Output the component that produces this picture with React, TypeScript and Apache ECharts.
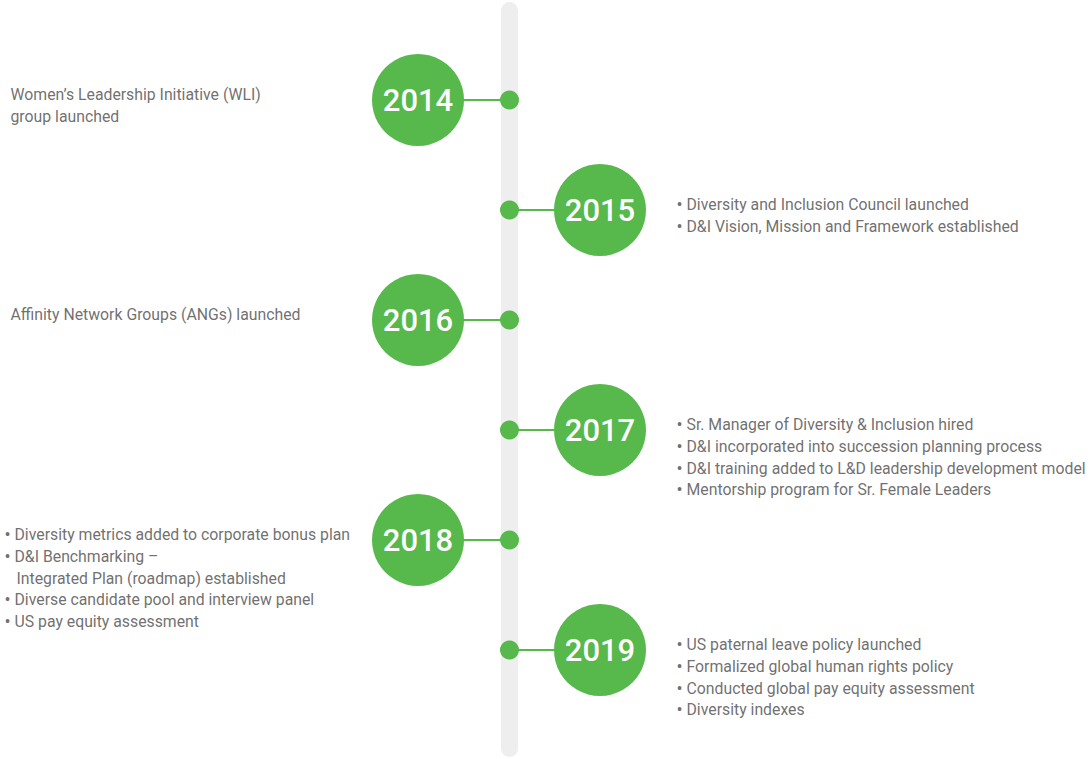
import React, { useEffect, useRef } from "react";
import * as echarts from "echarts";

// ---- data ----
const years = [2014, 2015, 2016, 2017, 2018, 2019];
const sides = ["left", "right", "left", "right", "left", "right"];
const bulleted = [false, true, false, true, true, true];
const notes2014 = ["Women’s Leadership Initiative (WLI)", "group launched"];
const notes2015 = ["Diversity and Inclusion Council launched", "D&I Vision, Mission and Framework established"];
const notes2016 = ["Affinity Network Groups (ANGs) launched"];
const notes2017 = [
  "Sr. Manager of Diversity & Inclusion hired",
  "D&I incorporated into succession planning process",
  "D&I training added to L&D leadership development model",
  "Mentorship program for Sr. Female Leaders",
];
const notes2018 = [
  "Diversity metrics added to corporate bonus plan",
  "D&I Benchmarking –\nIntegrated Plan (roadmap) established",
  "Diverse candidate pool and interview panel",
  "US pay equity assessment",
];
const notes2019 = [
  "US paternal leave policy launched",
  "Formalized global human rights policy",
  "Conducted global pay equity assessment",
  "Diversity indexes",
];
const notes = [notes2014, notes2015, notes2016, notes2017, notes2018, notes2019];

// ---- layout ----
const W = 1090;
const H = 759;
const yMin = 2013.0909;
const yMax = 2019.9909;
const barX = 509.5;
const barTop = 2013.186;
const barBottom = 2019.895;
const circleX = { left: 418, right: 600 };
const plainTextX = { left: 11, right: 687 };
const bulletTextX = { left: 5, right: 677 };
const GREEN = "#57b84b";
const TEXT = "#4a4a4a";
const FONT = "Roboto";

function buildLabel(items: string[], bullet: boolean): string {
  const lines: string[] = [];
  items.forEach((it) => {
    const parts = it.split("\n");
    parts.forEach((p, i) => {
      if (!bullet) lines.push(`{t|${p}}`);
      else if (i === 0) lines.push(`{b|•}{t|${p}}`);
      else lines.push(`{i| }{t|${p}}`);
    });
  });
  return lines.join("\n");
}

export default function App() {
  const ref = useRef<HTMLDivElement>(null);
  useEffect(() => {
    if (!ref.current) return;
    const chart = echarts.init(ref.current, undefined, { renderer: "svg" });

    const sideOf = (i: number) => sides[i] as "left" | "right";

    const option: any = {
      animation: false,
      grid: { left: 0, right: 0, top: 0, bottom: 0 },
      xAxis: { type: "value", min: 0, max: W, show: false },
      yAxis: { type: "value", min: yMin, max: yMax, inverse: true, show: false },
      series: [
        {
          type: "lines",
          coordinateSystem: "cartesian2d",
          silent: true,
          z: 1,
          lineStyle: { color: "#eeeeee", width: 17, opacity: 1, cap: "round" },
          data: [{ coords: [[barX, barTop], [barX, barBottom]] }],
        },
        {
          type: "lines",
          coordinateSystem: "cartesian2d",
          silent: true,
          z: 2,
          lineStyle: { color: GREEN, width: 2, opacity: 1 },
          data: years.map((y, i) => ({ coords: [[circleX[sideOf(i)], y], [barX, y]] })),
        },
        {
          type: "scatter",
          silent: true,
          z: 3,
          symbolSize: 19,
          itemStyle: { color: GREEN, opacity: 1 },
          data: years.map((y) => [barX, y]),
        },
        {
          type: "scatter",
          silent: true,
          z: 4,
          symbolSize: 92,
          itemStyle: { color: GREEN, opacity: 1 },
          label: {
            show: true,
            position: "inside",
            formatter: (p: any) => String(p.value[1]),
            color: "#ffffff",
            fontFamily: FONT,
            fontSize: 31,
            fontWeight: 500,
          },
          data: years.map((y, i) => [circleX[sideOf(i)], y]),
        },
        {
          type: "scatter",
          silent: true,
          z: 5,
          symbolSize: 1,
          itemStyle: { color: "rgba(0,0,0,0)" },
          label: {
            show: true,
            position: [0, -15.5],
            align: "left",
            verticalAlign: "top",
            formatter: (p: any) => buildLabel(notes[p.dataIndex], bulleted[p.dataIndex]),
            rich: {
              t: { color: TEXT, fontFamily: FONT, fontSize: 15.8, lineHeight: 21.6 },
              b: { color: TEXT, fontFamily: FONT, fontSize: 18, lineHeight: 21.6, width: 10 },
              i: { color: TEXT, fontFamily: FONT, fontSize: 15, lineHeight: 21.6, width: 12 },
            },
          },
          data: years.map((y, i) => [
            bulleted[i] ? bulletTextX[sideOf(i)] : plainTextX[sideOf(i)],
            y,
          ]),
        },
      ],
    };
    chart.setOption(option);
    return () => chart.dispose();
  }, []);
  return (
    <div
      ref={ref}
      style={{ position: "absolute", left: 0, top: 0, width: W, height: H, background: "#ffffff" }}
    />
  );
}
